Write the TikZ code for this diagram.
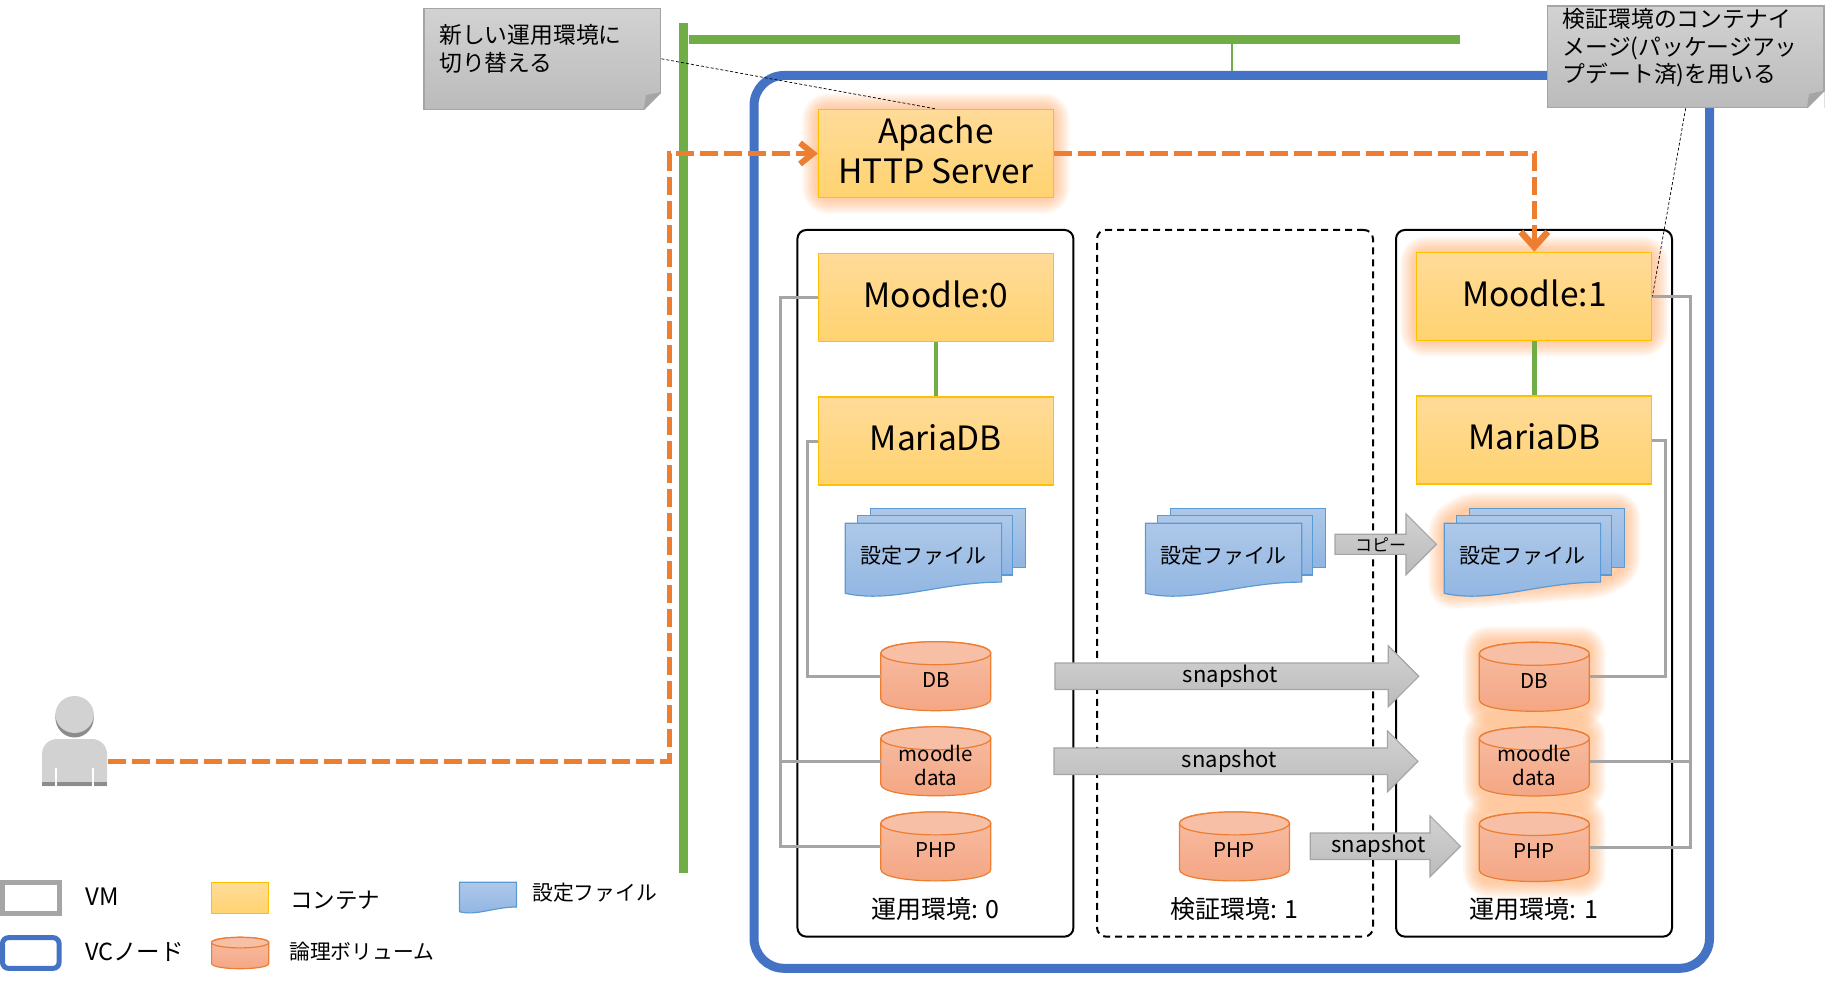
\documentclass[tikz,border=0pt]{standalone}
\usepackage{fontspec}
\setmainfont{Noto Sans CJK JP}
\usetikzlibrary{shapes.arrows,arrows.meta}

\definecolor{vcblue}{HTML}{4472C4}
\definecolor{busgreen}{HTML}{70AD47}
\definecolor{routeorange}{HTML}{ED7D31}
\definecolor{vmgray}{HTML}{A5A5A5}
\definecolor{contline}{HTML}{FFC000}
\definecolor{conttop}{HTML}{FFDB99}
\definecolor{contbot}{HTML}{FFD370}
\definecolor{voltop}{HTML}{F7BFA6}
\definecolor{volbot}{HTML}{F4A582}
\definecolor{docline}{HTML}{5B9BD5}
\definecolor{doctop}{HTML}{AEC8E8}
\definecolor{docbot}{HTML}{8FB5E2}
\definecolor{graytop}{HTML}{D2D2D2}
\definecolor{graybot}{HTML}{BBBBBB}
\definecolor{glowcol}{HTML}{FF9646}

\tikzset{
  contbox/.style={draw=contline, line width=1.2pt, shade, top color=conttop, bottom color=contbot,
    minimum width=235, minimum height=88, inner sep=0, text depth=6pt, font=\fontsize{33.5}{40}\selectfont, align=center},
  volbody/.style={draw=routeorange, line width=1.2pt, shade, top color=voltop, bottom color=volbot},
  volcap/.style={draw=routeorange, line width=1.2pt, fill=voltop},
  volnode/.style={minimum width=110, minimum height=69, inner sep=0},
  voltext/.style={inner sep=0, font=\fontsize{20.5}{24.5}\selectfont, align=center},
  docbox/.style={draw=docline, line width=1.2pt, shade, top color=doctop, bottom color=docbot},
  graybox/.style={draw=vmgray, line width=1.2pt, shade, top color=graytop, bottom color=graybot},
  snaparrow/.style={graybox, shape=single arrow, single arrow head extend=15.5, single arrow tip angle=90,
    minimum width=61, inner sep=0, font=\fontsize{22}{26}\selectfont},
  envbox/.style={draw=black, line width=2pt, rounded corners=9, minimum width=276, minimum height=706.7, inner sep=0},
  envtext/.style={font=\fontsize{25}{29}\selectfont, inner sep=0},
  vmline/.style={draw=vmgray, line width=3pt},
  busline/.style={draw=busgreen, line width=9pt},
  linkline/.style={draw=busgreen, line width=4.5pt},
  routeline/.style={draw=routeorange, line width=5pt, dash pattern=on 18pt off 6pt},
  leaderline/.style={draw=black, line width=0.7pt, dash pattern=on 3pt off 2pt},
  notetext/.style={anchor=north west, inner sep=0, align=left, font=\fontsize{22.8}{27.5}\selectfont},
  legendtext/.style={anchor=west, inner sep=0, font=\fontsize{20.8}{24}\selectfont},
}

% one sheet with the wavy lower edge
\newcommand{\docfront}[4]{
  \draw[docbox] (#1,#2) -- (#1+#3,#2) -- (#1+#3,#2+#4*0.84)
    .. controls (#1+0.6*#3,#2+#4*0.84) and (#1+0.3*#3,#2+#4*1.15) .. (#1,#2+#4) -- cycle;
}
% a stack of three sheets
\newcommand{\docstack}[2]{
  \draw[docbox] (#1+25,508.3) rectangle (#1+180.3,567.7);
  \draw[docbox] (#1+12.3,515.3) rectangle (#1+167.3,575);
  \docfront{#1}{523.3}{156.3}{70}
  \node[font=\fontsize{21}{24}\selectfont, inner sep=0] (#2) at (#1+78,556) {設定ファイル};
}
% cylinder outline: centre x, centre y, half width, half height, cap radius
\newcommand{\volshape}[5]{
  \draw[volbody] (#1-#3,#2-#4+#5) -- (#1-#3,#2+#4-#5)
    .. controls (#1-#3,#2+#4+0.333*#5) and (#1+#3,#2+#4+0.333*#5) .. (#1+#3,#2+#4-#5)
    -- (#1+#3,#2-#4+#5)
    .. controls (#1+#3,#2-#4-0.333*#5) and (#1-#3,#2-#4-0.333*#5) .. (#1-#3,#2-#4+#5) -- cycle;
  \draw[volcap] (#1,#2-#4+#5) ellipse (#3 and #5);
}
% a volume: name, centre x, centre y, text
\newcommand{\volume}[4]{
  \volshape{#2}{#3}{55}{34.5}{11.5}
  \node[volnode] (#1) at (#2,#3) {};
  \node[voltext] (#1text) at (#2,#3+4) {#4};
}
% orange halo round a path
\newcommand{\glowpath}[1]{
  \foreach \w in {32,28,...,4} {
    \draw[draw=glowcol, draw opacity=0.08, line width=\w pt, line join=round, rounded corners=10] #1;
  }
}

\begin{document}
\begin{tikzpicture}[x=1pt,y=-1pt]
  \useasboundingbox (0,0) rectangle (1826,981);

  % VC node and network
  \coordinate (bustop) at (683.5,23);
  \coordinate (busbot) at (683.5,873);
  \coordinate (hubleft) at (689,39.5);
  \coordinate (hubright) at (1460,39.5);
  \coordinate (hubjoin) at (1231.75,39.5);
  \node[draw=vcblue, line width=9pt, rounded corners=30, minimum width=955.5, minimum height=892.8, inner sep=0] (vcnode) at (1231.75,521.9) {};
  \draw[busline] (bustop) -- (busbot);
  \draw[busline] (hubleft) -- (hubright);
  \draw[draw=busgreen, line width=2.5pt] (hubjoin) -- (vcnode.north);

  % Halos
  \glowpath{(818.3,109.3) rectangle (1053.4,197.7)}
  \glowpath{(1416.3,252.3) rectangle (1652.3,340.3)}
  \glowpath{(1444.3,523) -- (1469,508.3) -- (1624.4,508.3) -- (1624.4,567.7) -- (1600,582) -- (1500,590) -- (1444.3,593.3) -- cycle}
  \glowpath{(1479.2,642.3) rectangle (1589.5,711.3)}
  \glowpath{(1479.2,727.3) rectangle (1589.5,795.7)}
  \glowpath{(1479.2,812.3) rectangle (1589.5,881.7)}

  % Environments
  \node[envbox] (env0) at (935.4,583.3) {};
  \node[envbox, dash pattern=on 7pt off 5pt] (env1) at (1235,583.3) {};
  \node[envbox] (env2) at (1534,583.3) {};
  \node[envtext] (env0text) at (935.7,909) {運用環境: 0};
  \node[envtext] (env1text) at (1234.2,909) {検証環境: 1};
  \node[envtext] (env2text) at (1534,909) {運用環境: 1};

  % Containers
  \node[contbox] (apache) at (935.9,153.5) {Apache\\HTTP Server};
  \node[contbox] (moodle0) at (935.9,297.5) {Moodle:0};
  \node[contbox] (maria0) at (935.9,441) {MariaDB};
  \node[contbox] (moodle1) at (1534.3,296.3) {Moodle:1};
  \node[contbox] (maria1) at (1534.3,440) {MariaDB};
  \draw[linkline] (moodle0) -- (maria0);
  \draw[linkline] (moodle1) -- (maria1);

  % Setting files
  \docstack{845.3}{conf0}
  \docstack{1145.4}{confv}
  \docstack{1444.3}{conf1}

  % Volumes
  \volume{db0}{935.8}{676.2}{DB}
  \volume{data0}{935.8}{761.3}{moodle\\data}
  \volume{php0}{935.8}{846.4}{PHP}
  \volume{phpv}{1234.4}{846.4}{PHP}
  \volume{db1}{1534.3}{676.8}{DB}
  \volume{data1}{1534.3}{761.5}{moodle\\data}
  \volume{php1}{1534.3}{847}{PHP}

  % VM lines
  \draw[vmline] (maria0.west) -- ++(-10,0) |- (db0.west);
  \draw[vmline] (moodle0.west) -- ++(-37.3,0) |- (php0.west);
  \draw[vmline] (data0.west) -- ++(-100,0);
  \draw[vmline] (maria1.east) -- ++(12.7,0) |- (db1.east);
  \draw[vmline] (moodle1.east) -- ++(37.7,0) |- (php1.east);
  \draw[vmline] (data1.east) -- ++(100.5,0);

  % Copy and snapshots
  \node[snaparrow, anchor=tail, minimum height=363.9] (snapdb) at (1054.3,676.3) {snapshot};
  \node[snaparrow, anchor=tail, minimum height=364] (snapdata) at (1053.3,761.3) {snapshot};
  \node[snaparrow, anchor=tail, minimum height=150.2] (snapphp) at (1309.6,846.3) {snapshot};
  \node[snaparrow, anchor=tail, minimum height=101.4, font=\fontsize{17}{20}\selectfont] (copyconf) at (1334.4,544.3) {コピー\hspace{6pt}};

  % Access route
  \coordinate (user) at (108,761.5);
  \coordinate (routeturn) at (669.5,153.5);
  \draw[routeline, -{Straight Barb[length=13pt,width=21pt,line width=6pt]}] (user) -| (routeturn) -- (apache.west);
  \draw[routeline, -{Straight Barb[length=15pt,width=27pt,line width=6.5pt]}] (apache.east) -| (moodle1.north);

  % Notes
  \node[graybox, minimum width=236.9, minimum height=101, inner sep=0] (note0) at (542.35,58.8) {};
  \fill[white] (note0.south east) -- ++(-17,0) -- ++(17,-17) -- cycle;
  \draw[draw=vmgray, line width=1.2pt] (643.8,109.3) -- (660.8,92.3);
  \fill[vmgray] (643.8,109.3) -- (646,95) -- (660.8,92.3) -- cycle;
  \node[notetext] (note0text) at (439,24.5) {新しい運用環境に\\切り替える};
  \node[graybox, minimum width=276.7, minimum height=101.7, inner sep=0] (note1) at (1685.65,56.85) {};
  \fill[white] (note1.south east) -- ++(-17,0) -- ++(17,-17) -- cycle;
  \draw[draw=vmgray, line width=1.2pt] (1807,107.7) -- (1824,90.7);
  \fill[vmgray] (1807,107.7) -- (1809,94) -- (1824,90.7) -- cycle;
  \node[notetext] (note1text) at (1562.7,8.5) {検証環境のコンテナイ\\メージ(パッケージアッ\\プデート済)を用いる};
  \draw[leaderline] (note0.east) -- (apache.north);
  \draw[leaderline] (note1.south) -- (moodle1.east);

  % User
  \fill[gray!90] (74.6,717.5) ellipse (19.2 and 20);
  \fill[gray!35] (74.6,714.5) ellipse (19.2 and 18.5);
  \fill[gray!35, rounded corners=15] (42,786) -- (42,739) -- (107,739) -- (107,786);
  \fill[gray!90] (42,782) rectangle (107,786);
  \fill[white] (55,768) rectangle (56.6,786);
  \fill[white] (92.2,768) rectangle (93.8,786);

  % Legend
  \node[draw=vmgray, line width=5pt, minimum width=56.6, minimum height=30.7, inner sep=0] (legvm) at (30.8,897.9) {};
  \node[legendtext, font=\fontsize{24}{28}\selectfont] (legvmtext) at (85,897) {VM};
  \node[draw=vcblue, line width=5pt, rounded corners=6, minimum width=56.6, minimum height=30.7, inner sep=0] (legvc) at (30.8,953) {};
  \node[legendtext, font=\fontsize{23.5}{28}\selectfont] (legvctext) at (85,952) {VCノード};
  \node[contbox, minimum width=57.2, minimum height=31.4] (legcont) at (240.2,898) {};
  \node[legendtext, font=\fontsize{22.5}{26}\selectfont] (legconttext) at (290,900) {コンテナ};
  \volshape{240.2}{953}{28.6}{15.7}{5.3}
  \node[inner sep=0, minimum width=57.2, minimum height=31.4] (legvol) at (240.2,953) {};
  \node[legendtext] (legvoltext) at (289,951.7) {論理ボリューム};
  \docfront{459.4}{882.3}{57.1}{29.4}
  \node[legendtext] (legdoctext) at (532,892.7) {設定ファイル};
\end{tikzpicture}
\end{document}
